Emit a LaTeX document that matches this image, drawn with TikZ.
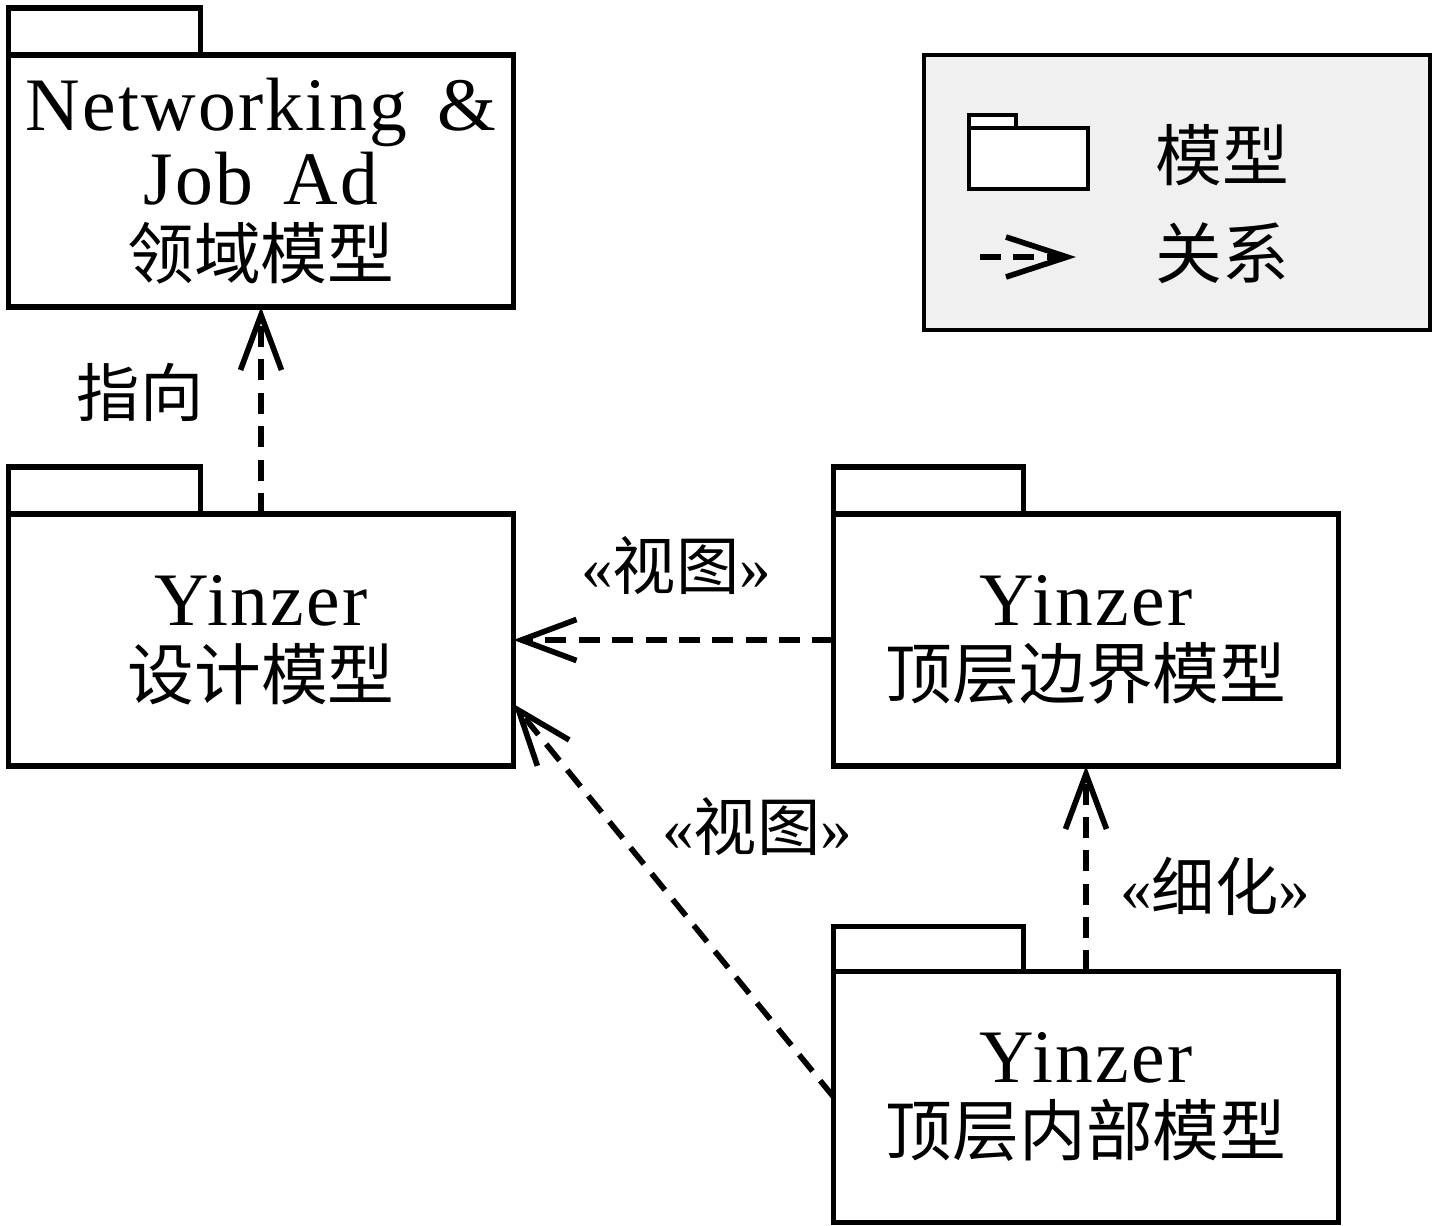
\documentclass[tikz,border=0pt]{standalone}
\usepackage{fontspec}
\setmainfont[LetterSpace=3]{Liberation Serif}
\newfontfamily\cjk{Noto Sans CJK SC}
\newcommand\zh[1]{{\cjk\fontsize{38}{41}\selectfont #1}}
\usetikzlibrary{arrows.meta}

\begin{document}
\begin{tikzpicture}
[
    x=0.02cm, y=-0.02cm,
    pkg/.style={draw, line width=3pt, fill=white, outer sep=0pt, inner sep=0pt,
        minimum width=10.1cm, minimum height=5.04cm, align=center,
        font=\fontsize{43}{42}\selectfont},
    pkgtab/.style={draw, line width=3pt, fill=white},
    dep/.style={line width=3.2pt, dash pattern=on 12pt off 7pt,
        -{Straight Barb[length=1.1cm, width=0.82cm]}},
    lbl/.style={inner sep=0pt, font=\fontsize{36}{36}\selectfont},
    legendbox/.style={draw, line width=2pt, fill=black!6, outer sep=0pt,
        minimum width=10.12cm, minimum height=5.5cm},
]
\useasboundingbox (0,0) rectangle (1438,1226);

% packages
\node[pkg] (domain) at (261,181)
    {Networking\hspace{0.4em}\&\\Job\hspace{0.4em}Ad\\\zh{领域模型}};
\draw[pkgtab] (domain.north west) rectangle ++(3.84cm,0.94cm);
\node[pkg] (design) at (261,640) {Yinzer\\\zh{设计模型}};
\draw[pkgtab] (design.north west) rectangle ++(3.84cm,0.94cm);
\node[pkg] (boundary) at (1086,640) {Yinzer\\\zh{顶层边界模型}};
\draw[pkgtab] (boundary.north west) rectangle ++(3.8cm,0.94cm);
\node[pkg, minimum height=5.02cm] (internal) at (1086,1097) {Yinzer\\\zh{顶层内部模型}};
\draw[pkgtab] (internal.north west) rectangle ++(3.8cm,0.9cm);

% legend
\node[legendbox] (legend) at (1177,192.5) {};
\node[draw, line width=2.4pt, fill=white, outer sep=0pt, minimum width=2.38cm,
    minimum height=1.22cm] (lgpkg) at (1028.5,158.5) {};
\draw[line width=2.4pt, fill=white] (lgpkg.north west) rectangle ++(0.94cm,0.26cm);
\node[lbl, font=\fontsize{38}{38}\selectfont] (lgpkgtxt) at (1222,155) {\cjk 模型};
\coordinate (lgfrom) at (980,257);
\coordinate (lgto) at (1076,257);
\draw[dep, -{Straight Barb[length=1.22cm, width=0.8cm]}] (lgfrom) -- (lgto);
\node[lbl, font=\fontsize{38}{38}\selectfont] (lgdeptxt) at (1222,253) {\cjk 关系};

% dependencies
\draw[dep] (design.north) -- (domain.south);
\draw[dep] (boundary.west) -- (design.east);
\draw[dep] (internal.west) -- ([yshift=-1.28cm]design.east);
\draw[dep] (internal.north) -- (boundary.south);

\node[lbl] (lblpoint) at (140,392) {\cjk 指向};
\node[lbl] (lblview) at (676,566) {«{\cjk 视图}»};
\node[lbl] (lblviewb) at (757,827) {«{\cjk 视图}»};
\node[lbl] (lblrefine) at (1215,886) {«{\cjk 细化}»};
\end{tikzpicture}
\end{document}
